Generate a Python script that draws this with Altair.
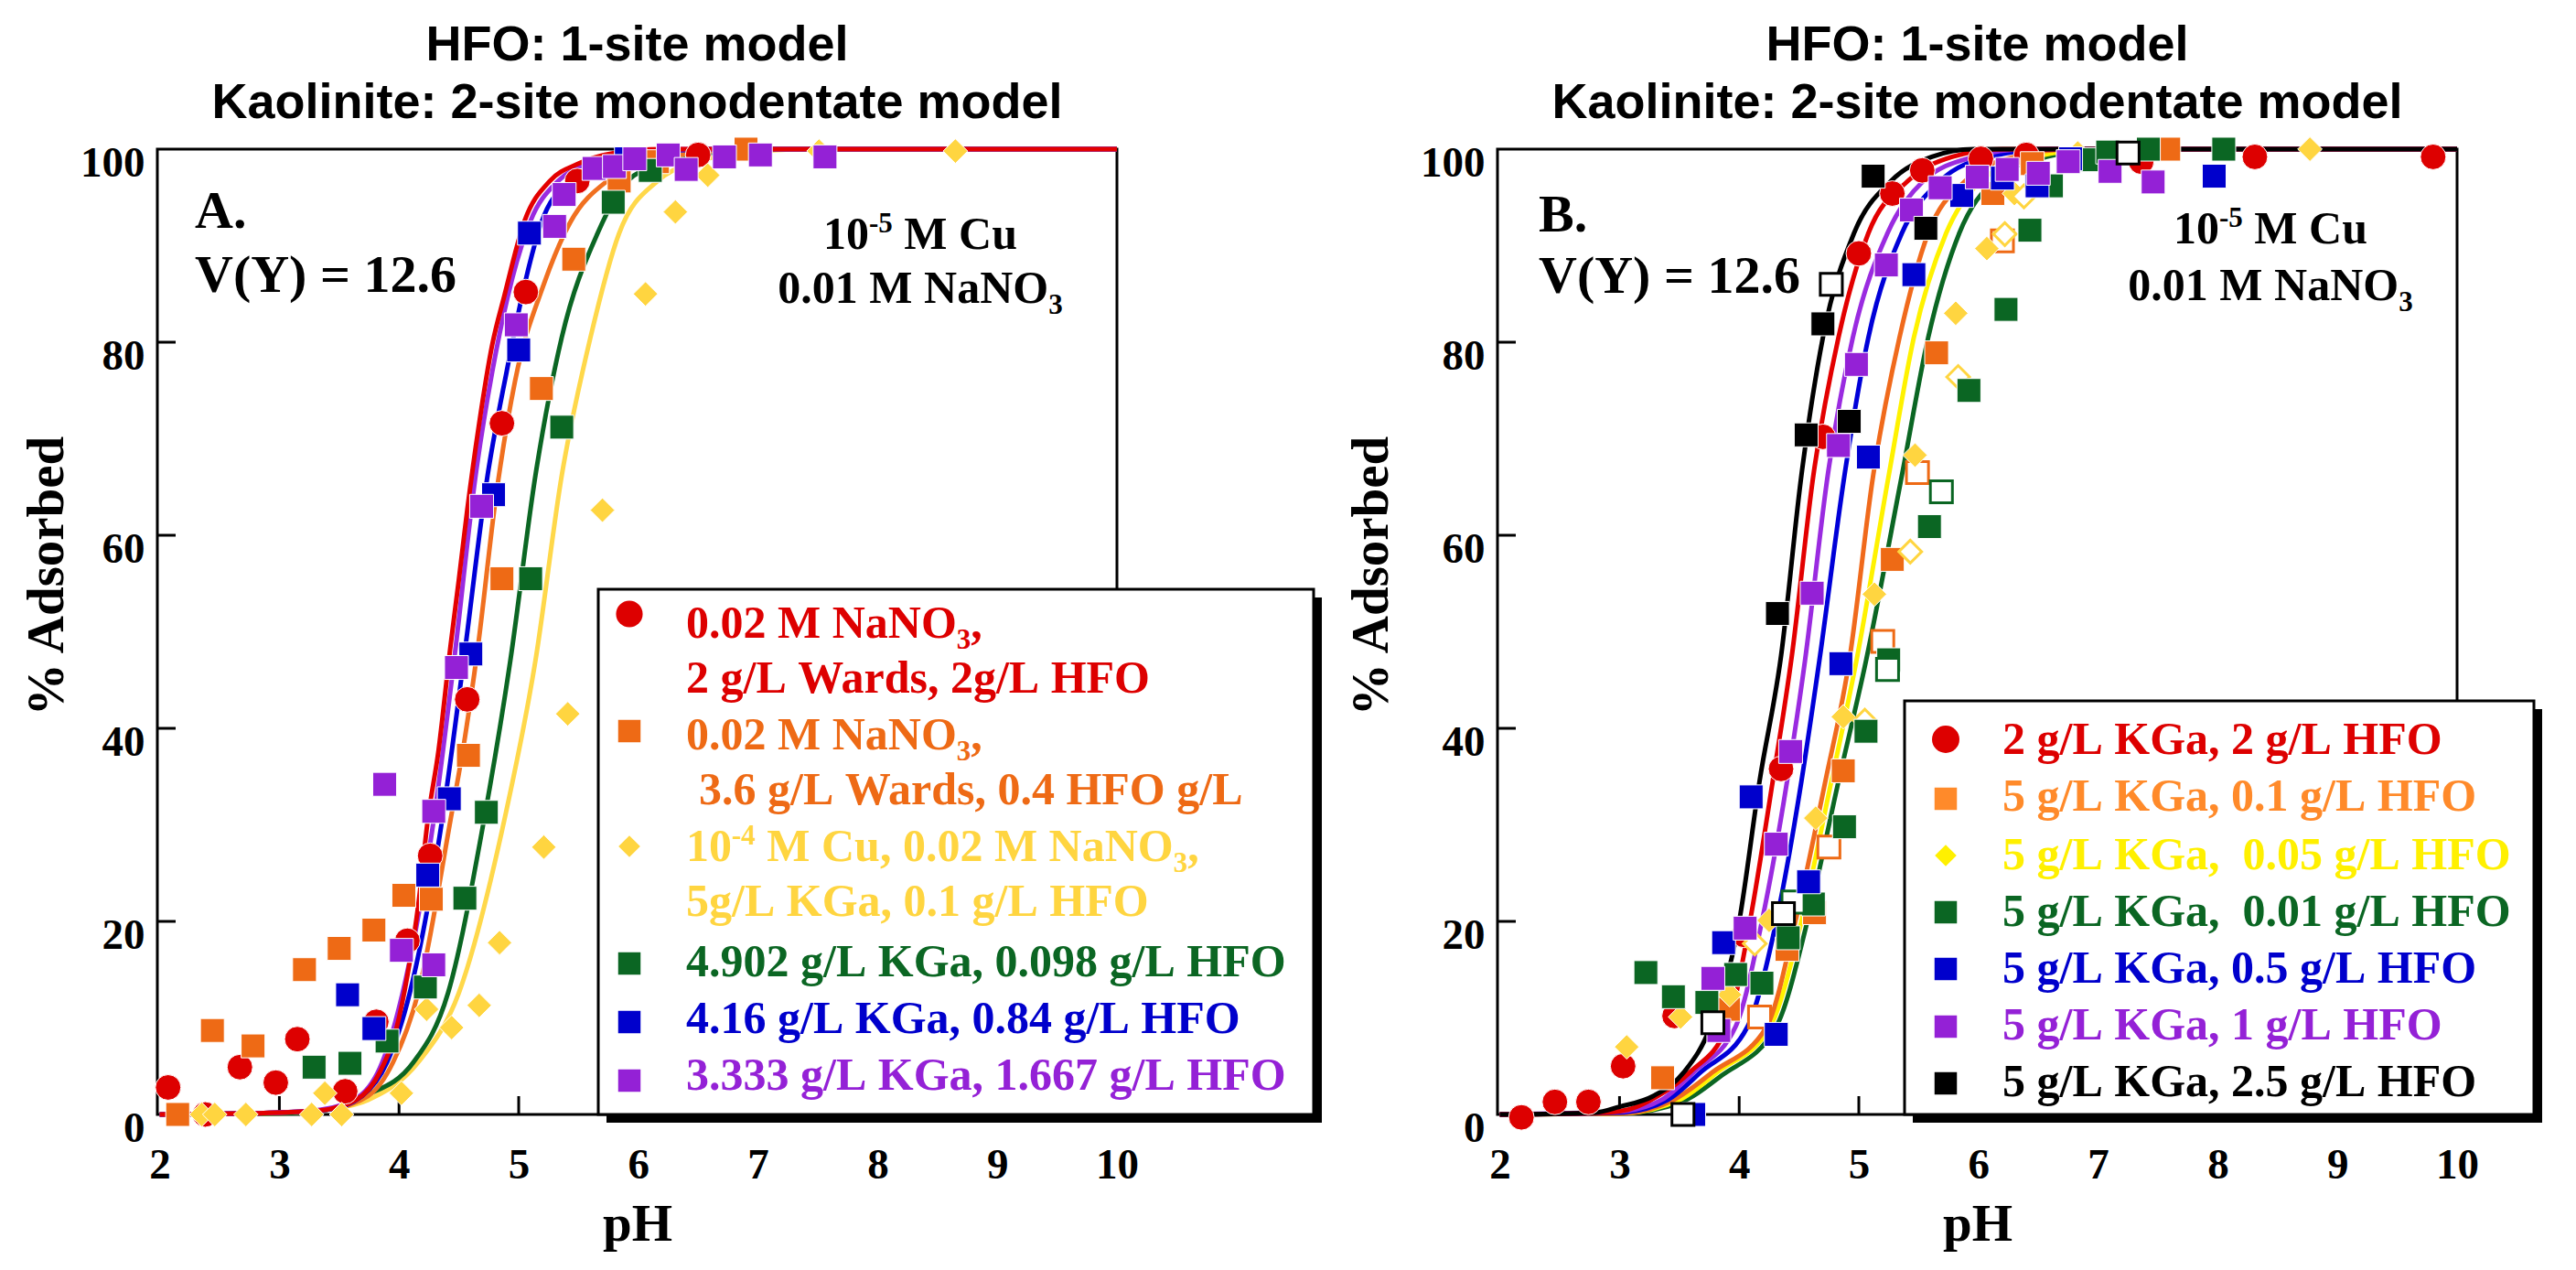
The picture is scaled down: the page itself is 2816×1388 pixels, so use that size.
import altair as alt
import pandas as pd

# ---------------------------------------------------------------- axis labels
X_LABELS = [2, 3, 4, 5, 6, 7, 8, 9, 10]
Y_LABELS = [0, 20, 40, 60, 80, 100]
X_TICKS = [3, 4, 5, 6, 7, 8, 9]
Y_TICKS = [20, 40, 60, 80]

TITLE_LINES = ["HFO: 1-site model", "Kaolinite: 2-site monodentate model"]

# ---------------------------------------------------------------- panel A points
A_red_pH = [2.07, 2.38, 2.67, 2.97, 3.15, 3.55, 3.81, 4.07, 4.26, 4.57, 4.86, 5.06, 5.49, 6.5]
A_red_v = [2.8, 0, 4.9, 3.3, 7.8, 2.4, 9.6, 18, 26.8, 43, 71.6, 85.2, 96.7, 99.4]
A_orange_pH = [2.15, 2.44, 2.78, 3.21, 3.5, 3.79, 4.04, 4.27, 4.58, 4.86, 5.19, 5.46, 5.84, 6.16, 6.9]
A_orange_v = [0, 8.7, 7.1, 15, 17.2, 19.1, 22.7, 22.3, 37.2, 55.5, 75.2, 88.6, 96.7, 98.7, 100]
A_yellow_pH = [2.35, 2.46, 2.72, 3.27, 3.38, 3.52, 4.02, 4.23, 4.44, 4.67, 4.84, 5.21, 5.41, 5.7, 6.06, 6.31, 6.58, 7.51, 8.65]
A_yellow_v = [0, 0, 0, 0, 2.2, 0, 2.2, 10.9, 9.0, 11.3, 17.8, 27.7, 41.5, 62.6, 85.0, 93.5, 97.3, 99.8, 99.8]
A_green_pH = [3.29, 3.59, 3.9, 4.22, 4.55, 4.73, 5.1, 5.36, 5.79, 6.1]
A_green_v = [4.9, 5.3, 7.6, 13.2, 22.4, 31.3, 55.5, 71.2, 94.5, 97.8]
A_blue_pH = [3.57, 3.79, 4.24, 4.42, 4.6, 4.79, 5.0, 5.09, 5.9]
A_blue_v = [12.4, 8.9, 24.8, 32.7, 47.7, 64.2, 79.2, 91.3, 99]
A_purple_pH = [3.88, 4.02, 4.29, 4.29, 4.48, 4.69, 4.98, 5.3, 5.38, 5.63, 5.8, 5.97, 6.25, 6.4, 6.72, 7.02, 7.56]
A_purple_v = [34.2, 17.0, 31.4, 15.5, 46.3, 63.0, 81.8, 92.0, 95.3, 98, 98.2, 99, 99.4, 97.9, 99.2, 99.4, 99.2]

# ---------------------------------------------------------------- panel A model curves
A_c_red_pH = [2.0, 3.0, 3.33, 3.64, 3.84, 3.98, 4.07, 4.16, 4.24, 4.33, 4.43, 4.5, 4.57, 4.67, 4.78, 4.88, 5.05, 5.26, 5.5, 5.8, 6.2, 10.0]
A_c_red_v = [0, 0.2, 0.4, 1.5, 4.4, 9, 14.4, 21.6, 30.5, 37.7, 48.5, 55.4, 62.6, 71.6, 79.8, 84.8, 92.6, 96.7, 98.5, 99.6, 100, 100]
A_c_purple_pH = [2.0, 3.0, 3.35, 3.67, 3.86, 4.03, 4.29, 4.46, 4.64, 4.78, 4.91, 5.1, 5.33, 5.57, 5.9, 6.3, 10.0]
A_c_purple_v = [0, 0.2, 0.5, 1.9, 5.4, 12.6, 30.5, 47, 66.2, 77, 84.8, 92.6, 96.7, 98.5, 99.6, 100, 100]
A_c_blue_pH = [2.0, 3.0, 3.4, 3.69, 3.9, 4.09, 4.36, 4.54, 4.74, 4.9, 5.05, 5.19, 5.43, 5.74, 6.2, 6.6, 10.0]
A_c_blue_v = [0, 0.2, 0.5, 1.9, 5.4, 12.6, 30.5, 47, 66.2, 77, 86, 92.4, 96.7, 98.5, 99.7, 100, 100]
A_c_orange_pH = [2.0, 3.0, 3.4, 3.74, 3.95, 4.16, 4.43, 4.55, 4.66, 4.81, 4.97, 5.21, 5.43, 5.74, 6.09, 6.5, 7.0, 10.0]
A_c_orange_v = [0, 0.2, 0.5, 1.9, 5.4, 12.6, 30.5, 39, 48.5, 64, 76, 86, 92.4, 96.7, 98.5, 99.7, 100, 100]
A_c_green_pH = [2.0, 3.0, 3.4, 3.71, 4.12, 4.41, 4.71, 4.93, 5.14, 5.36, 5.66, 5.91, 6.2, 6.6, 7.1, 10.0]
A_c_green_v = [0, 0.1, 0.5, 1.9, 5.4, 12.6, 30.5, 47, 66.2, 80.5, 91.3, 96.7, 98.5, 99.6, 100, 100]
A_c_yellow_pH = [2.0, 3.0, 3.4, 3.74, 4.16, 4.5, 4.88, 5.14, 5.36, 5.6, 5.84, 6.16, 6.43, 6.9, 7.4, 10.0]
A_c_yellow_v = [0, 0.1, 0.5, 1.5, 5.4, 12.6, 30.5, 47, 66.2, 80.5, 91.3, 96.7, 98.5, 99.6, 100, 100]

# ---------------------------------------------------------------- panel B points
B_red_pH = [2.18, 2.46, 2.74, 3.03, 3.46, 4.04, 4.35, 4.7, 5.0, 5.28, 5.53, 6.02, 6.4, 7.36, 8.31, 9.8]
B_red_v = [-0.3, 1.3, 1.3, 5.0, 10.2, 18.6, 35.8, 70.2, 89.2, 95.4, 97.8, 99.0, 99.4, 98.7, 99.2, 99.2]
B_orange_pH = [3.36, 3.91, 4.4, 4.63, 4.87, 5.28, 5.65, 6.12, 6.45, 7.59]
B_orange_v = [3.8, 10.9, 17.1, 20.9, 35.6, 57.5, 78.9, 95.4, 98.5, 100]
B_orange_open_pH = [4.17, 4.75, 5.2, 5.49, 6.2]
B_orange_open_v = [10.1, 27.7, 49, 66.5, 90.5]
B_yellow_pH = [3.06, 3.51, 3.92, 4.25, 4.64, 4.87, 5.13, 5.47, 5.81, 6.07, 6.3, 6.83, 8.77]
B_yellow_v = [7.0, 10.1, 12.4, 20.1, 30.7, 41.2, 53.9, 68.3, 83.0, 89.7, 95.4, 99.6, 100]
B_yellow_open_pH = [4.13, 5.05, 5.43, 5.83, 6.22, 6.38]
B_yellow_open_v = [17.7, 40.8, 58.3, 76.4, 91.2, 95.1]
B_green_pH = [3.22, 3.45, 3.73, 3.97, 4.19, 4.41, 4.62, 4.88, 5.06, 5.25, 5.59, 5.92, 6.23, 6.43, 6.61, 6.95, 7.08, 7.42, 8.05]
B_green_v = [14.7, 12.2, 11.6, 14.5, 13.6, 18.3, 21.8, 29.8, 39.7, 47.1, 60.9, 75.0, 83.4, 91.6, 96.2, 98.9, 99.7, 100, 100]
B_green_open_pH = [4.45, 5.24, 5.69]
B_green_open_v = [22, 46.1, 64.5]
B_blue_pH = [3.62, 3.87, 4.1, 4.31, 4.58, 4.85, 5.08, 5.46, 5.86, 6.2, 6.49, 6.77, 7.97]
B_blue_v = [0, 17.8, 32.9, 8.3, 24.1, 46.7, 68.1, 87, 95.2, 97, 96.2, 99, 97.2]
B_purple_pH = [3.83, 3.78, 4.05, 4.31, 4.43, 4.61, 4.83, 4.98, 5.23, 5.44, 5.68, 5.99, 6.24, 6.5, 6.75, 7.1, 7.46]
B_purple_v = [8.7, 14.1, 19.3, 28, 37.6, 54, 69.3, 77.7, 88, 93.7, 96, 97.1, 97.9, 97.5, 98.7, 97.7, 96.6]
B_black_pH = [4.32, 4.56, 4.7, 4.92, 5.12, 5.56]
B_black_v = [51.9, 70.4, 81.9, 71.8, 97.2, 91.8]
B_black_open_pH = [3.53, 3.78, 4.37, 4.77, 7.25]
B_black_open_v = [0, 9.5, 20.8, 86.0, 99.6]

# ---------------------------------------------------------------- panel B model curves
B_c_black_pH = [2.0, 2.8, 3.0, 3.28, 3.54, 3.76, 4.0, 4.17, 4.35, 4.52, 4.7, 4.96, 5.27, 5.61, 5.96, 10.0]
B_c_black_v = [0, 0.2, 0.8, 1.9, 4.4, 9.1, 20, 34.5, 47.5, 66.2, 80.5, 91.3, 96.7, 99.2, 100, 100]
B_c_red_pH = [2.0, 2.9, 3.1, 3.32, 3.59, 3.9, 4.09, 4.28, 4.44, 4.62, 4.83, 5.08, 5.41, 5.78, 6.2, 10.0]
B_c_red_v = [0, 0.2, 0.6, 1.9, 4.4, 9.1, 20, 34.5, 47.5, 66.2, 80.5, 91.3, 96.7, 99.2, 100, 100]
B_c_purple_pH = [2.0, 3.0, 3.35, 3.62, 3.97, 4.19, 4.4, 4.55, 4.74, 4.95, 5.24, 5.54, 5.96, 6.4, 10.0]
B_c_purple_v = [0, 0.3, 1.5, 4.4, 9.1, 20, 34.5, 47, 66.2, 80.5, 91.3, 96.7, 99.2, 100, 100]
B_c_blue_pH = [2.0, 3.0, 3.4, 3.68, 4.07, 4.31, 4.52, 4.67, 4.88, 5.08, 5.36, 5.68, 6.09, 6.6, 10.0]
B_c_blue_v = [0, 0.2, 1.5, 4.4, 9.1, 20, 34.5, 47, 66.2, 80.5, 91.3, 96.7, 99.2, 100, 100]
B_c_orange_pH = [2.0, 3.0, 3.45, 3.78, 4.23, 4.47, 4.72, 4.92, 5.12, 5.34, 5.58, 5.89, 6.3, 6.8, 10.0]
B_c_orange_v = [0, 0.1, 1.5, 4.4, 9.1, 20, 34.5, 47, 66.2, 80.5, 91.3, 96.7, 99.2, 100, 100]
B_c_yellow_pH = [2.0, 3.0, 3.5, 3.82, 4.26, 4.52, 4.77, 4.98, 5.25, 5.46, 5.73, 6.02, 6.47, 7.0, 10.0]
B_c_yellow_v = [0, 0.1, 1.5, 4.4, 9.1, 20, 34.5, 47, 66.2, 80.5, 91.3, 96.7, 99.2, 100, 100]
B_c_green_pH = [2.0, 3.0, 3.5, 3.85, 4.31, 4.57, 4.83, 5.06, 5.36, 5.58, 5.84, 6.13, 6.57, 7.1, 10.0]
B_c_green_v = [0, 0.1, 1.2, 4.0, 9.1, 20, 34.5, 47, 66.2, 80.5, 91.3, 96.7, 99.2, 100, 100]

# ---------------------------------------------------------------- texts
A_LEGEND = [
    [("0.02 M NaNO", "n"), ("3", "sub"), (",", "n")],
    [("2 g/L Wards, 2g/L HFO", "n")],
    [("0.02 M NaNO", "n"), ("3", "sub"), (",", "n")],
    [("3.6 g/L Wards, 0.4 HFO g/L", "n")],
    [("10", "n"), ("-4", "sup"), (" M Cu, 0.02 M NaNO", "n"), ("3", "sub"), (",", "n")],
    [("5g/L KGa, 0.1 g/L HFO", "n")],
    [("4.902 g/L KGa, 0.098 g/L HFO", "n")],
    [("4.16 g/L KGa, 0.84 g/L HFO", "n")],
    [("3.333 g/L KGa, 1.667 g/L HFO", "n")],
]
B_LEGEND = [
    [("2 g/L KGa, 2 g/L HFO", "n")],
    [("5 g/L KGa, 0.1 g/L HFO", "n")],
    [("5 g/L KGa,  0.05 g/L HFO", "n")],
    [("5 g/L KGa,  0.01 g/L HFO", "n")],
    [("5 g/L KGa, 0.5 g/L HFO", "n")],
    [("5 g/L KGa, 1 g/L HFO", "n")],
    [("5 g/L KGa, 2.5 g/L HFO", "n")],
]
CU_LINE = [("10", "n"), ("-5", "sup"), (" M Cu", "n")]
SALT_LINE = [("0.01 M NaNO", "n"), ("3", "sub")]
VY_TEXT = "V(Y) = 12.6"

# ---------------------------------------------------------------- styling
SERIF = "Liberation Serif"
SANS = "Liberation Sans"
PW, PHT = 1049, 1055

RED = "#DD0000"
ORANGE = "#EE6A15"
ORANGE_B_TXT = "#FF8A2A"
GOLD = "#FFD540"
YELLOW = "#FFF200"
GREEN = "#0B6623"
BLUE = "#0000CC"
PURPLE = "#9421D6"
BLACK = "#000000"

# Times/Liberation Serif Bold advance widths (em)
CW = {" ": 0.25, ".": 0.25, ",": 0.25, "-": 0.333, "/": 0.278, "(": 0.333, ")": 0.333,
      "=": 0.57, "A": 0.722, "B": 0.667, "C": 0.722, "F": 0.611, "G": 0.778, "H": 0.778,
      "K": 0.778, "L": 0.667, "M": 0.944, "N": 0.722, "O": 0.778, "V": 0.722, "W": 1.0,
      "Y": 0.722, "a": 0.5, "d": 0.556, "g": 0.5, "r": 0.444, "s": 0.389, "u": 0.556}


def enc_x():
    return alt.X("pH:Q", scale=alt.Scale(domain=[1.98, 10.0], nice=False, zero=False),
                 axis=alt.Axis(values=X_LABELS, title="pH", labelFlush=False))


def make_enc_y(title_x):
    def enc_y():
        return alt.Y("v:Q", scale=alt.Scale(domain=[0, 100], nice=False, zero=False),
                     axis=alt.Axis(values=Y_LABELS, title="% Adsorbed", labelFlush=False,
                                   titleX=title_x, titleY=466, titleBaseline="alphabetic"))
    return enc_y


def rich(segs, x, y, size, color, align="left"):
    items = []
    for txt, kind in segs:
        if kind == "n":
            fs, dy = size, 0.0
        elif kind == "sub":
            fs, dy = size * 0.62, size * 0.24
        else:
            fs, dy = size * 0.62, -size * 0.36
        lead = len(txt) - len(txt.lstrip(" "))
        body = txt.lstrip(" ")
        w_lead = lead * CW[" "] * fs
        w = sum(CW.get(ch, 0.5) for ch in body) * fs
        items.append((body, fs, dy, w_lead, w))
    total = sum(i[3] + i[4] for i in items)
    cx = x - total / 2 if align == "center" else x
    out = []
    for body, fs, dy, w_lead, w in items:
        cx += w_lead
        out.append(alt.Chart(pd.DataFrame({"t": [body.replace(" ", "\u00a0")]})).mark_text(
            align="left", baseline="alphabetic", font=SERIF, fontWeight="bold",
            fontSize=fs, color=color).encode(x=alt.value(cx), y=alt.value(y + dy), text="t:N"))
        cx += w
    return out


def one():
    return pd.DataFrame({"k": [0]})


def legend_box(x0, y0, x1, y1):
    shadow = alt.Chart(one()).mark_rect(fill="black").encode(
        x=alt.value(x0 + 9), x2=alt.value(x1 + 9), y=alt.value(y0 + 9), y2=alt.value(y1 + 9))
    box = alt.Chart(one()).mark_rect(fill="white", stroke="black", strokeWidth=3).encode(
        x=alt.value(x0), x2=alt.value(x1), y=alt.value(y0), y2=alt.value(y1))
    return [shadow, box]


def sym(x, y, shape, color, size):
    return alt.Chart(one()).mark_point(shape=shape, filled=True, color=color, size=size,
                                       opacity=1).encode(x=alt.value(x), y=alt.value(y))


def title():
    return alt.TitleParams(text=TITLE_LINES, font=SANS, fontSize=54, fontWeight="bold",
                           color="black", lineHeight=63, offset=8, anchor="middle")


class Panel:
    def __init__(self, title_x):
        self.enc_y = make_enc_y(title_x)
        self.layers = []
        xt = alt.Chart(pd.DataFrame({"pH": X_TICKS})).mark_rule(color="black", strokeWidth=3).encode(
            x=enc_x(), y=alt.value(PHT), y2=alt.value(PHT - 20))
        yt = alt.Chart(pd.DataFrame({"v": Y_TICKS})).mark_rule(color="black", strokeWidth=3).encode(
            y=self.enc_y(), x=alt.value(0), x2=alt.value(20))
        self.layers += [xt, yt]

    def curve(self, ph, v, color):
        df = pd.DataFrame({"pH": ph, "v": v})
        self.layers.append(alt.Chart(df).mark_line(color=color, strokeWidth=5, interpolate="monotone")
                           .encode(x=enc_x(), y=self.enc_y()))

    def pts(self, ph, v, shape, color, size):
        df = pd.DataFrame({"pH": ph, "v": v})
        self.layers.append(alt.Chart(df).mark_point(shape=shape, filled=True, color=color, stroke="white",
                                                    strokeWidth=1, size=size, opacity=1)
                           .encode(x=enc_x(), y=self.enc_y()))

    def open_pts(self, ph, v, shape, color, size):
        df = pd.DataFrame({"pH": ph, "v": v})
        self.layers.append(alt.Chart(df).mark_point(shape=shape, filled=True, fill="white", stroke=color,
                                                    strokeWidth=3, size=size, opacity=1)
                           .encode(x=enc_x(), y=self.enc_y()))


SQ, CI, DI = 680, 780, 720

# ---------------------------------------------------------------- panel A
pa = Panel(-104)
pa.curve(A_c_yellow_pH, A_c_yellow_v, "#FFD84A")
pa.curve(A_c_green_pH, A_c_green_v, GREEN)
pa.curve(A_c_orange_pH, A_c_orange_v, "#F07020")
pa.curve(A_c_blue_pH, A_c_blue_v, "#0000D8")
pa.curve(A_c_purple_pH, A_c_purple_v, "#9A2BE0")
pa.curve(A_c_red_pH, A_c_red_v, "#E30000")
pa.pts(A_red_pH, A_red_v, "circle", RED, CI)
pa.pts(A_orange_pH, A_orange_v, "square", ORANGE, SQ)
pa.pts(A_yellow_pH, A_yellow_v, "diamond", GOLD, DI)
pa.pts(A_green_pH, A_green_v, "square", GREEN, SQ)
pa.pts(A_blue_pH, A_blue_v, "square", BLUE, SQ)
pa.pts(A_purple_pH, A_purple_v, "square", PURPLE, SQ)
pa.layers += rich([("A.", "n")], 41, 86, 58, "black")
pa.layers += rich([(VY_TEXT, "n")], 41, 156, 58, "black")
pa.layers += rich(CU_LINE, 834, 109, 50, "black", "center")
pa.layers += rich(SALT_LINE, 834, 168, 50, "black", "center")
pa.layers += legend_box(482, 481, 1264, 1055)
A_rows = [(578, 534, RED), (578, 594, RED), (578, 656, ORANGE), (592, 716, ORANGE),
          (578, 778, GOLD), (578, 838, GOLD), (578, 904, GREEN), (578, 966, BLUE), (578, 1028, PURPLE)]
for segs, (x, y, c) in zip(A_LEGEND, A_rows):
    pa.layers += rich(segs, x, y, 50, c)
pa.layers += [
    sym(516, 508, "circle", RED, 850),
    sym(516, 636, "square", ORANGE, 600),
    sym(516, 762, "diamond", GOLD, 560),
    sym(516, 890, "square", GREEN, 600),
    sym(516, 954, "square", BLUE, 600),
    sym(516, 1018, "square", PURPLE, 600),
]
left = alt.layer(*pa.layers).properties(width=PW, height=PHT, title=title())

# ---------------------------------------------------------------- panel B
pb = Panel(-121)
pb.curve(B_c_green_pH, B_c_green_v, GREEN)
pb.curve(B_c_yellow_pH, B_c_yellow_v, YELLOW)
pb.curve(B_c_orange_pH, B_c_orange_v, "#F06A1C")
pb.curve(B_c_blue_pH, B_c_blue_v, "#0000D8")
pb.curve(B_c_purple_pH, B_c_purple_v, "#9A2BE0")
pb.curve(B_c_red_pH, B_c_red_v, "#E30000")
pb.curve(B_c_black_pH, B_c_black_v, BLACK)
pb.pts(B_red_pH, B_red_v, "circle", RED, CI)
pb.pts(B_orange_pH, B_orange_v, "square", ORANGE, SQ)
pb.open_pts(B_orange_open_pH, B_orange_open_v, "square", ORANGE, 580)
pb.pts(B_yellow_pH, B_yellow_v, "diamond", GOLD, DI)
pb.open_pts(B_yellow_open_pH, B_yellow_open_v, "diamond", GOLD, 620)
pb.pts(B_green_pH, B_green_v, "square", GREEN, SQ)
pb.open_pts(B_green_open_pH, B_green_open_v, "square", GREEN, 580)
pb.pts(B_blue_pH, B_blue_v, "square", BLUE, SQ)
pb.pts(B_purple_pH, B_purple_v, "square", PURPLE, SQ)
pb.pts(B_black_pH, B_black_v, "square", BLACK, SQ)
pb.open_pts(B_black_open_pH, B_black_open_v, "square", BLACK, 580)
pb.layers += rich([("B.", "n")], 45, 90, 58, "black")
pb.layers += rich([(VY_TEXT, "n")], 45, 157, 58, "black")
pb.layers += rich(CU_LINE, 845, 103, 50, "black", "center")
pb.layers += rich(SALT_LINE, 845, 165, 50, "black", "center")
pb.layers += legend_box(445, 603, 1133, 1055)
B_colors = [RED, ORANGE_B_TXT, "#FFF000", GREEN, BLUE, PURPLE, BLACK]
B_base = [661, 723, 787, 849, 911, 973, 1035]
for segs, y, c in zip(B_LEGEND, B_base, B_colors):
    pb.layers += rich(segs, 552, y, 50, c)
B_sym_shapes = ["circle", "square", "diamond", "square", "square", "square", "square"]
B_sym_sizes = [900, 600, 560, 600, 600, 600, 600]
for y, c, s, z in zip([645, 710, 772, 834, 896, 959, 1021], B_colors, B_sym_shapes, B_sym_sizes):
    pb.layers.append(sym(490, y, s, c, z))
right = alt.layer(*pb.layers).properties(width=PW, height=PHT, title=title())

# ---------------------------------------------------------------- assemble
chart = alt.hconcat(left, right, spacing=416, bounds="flush").properties(
    padding={"left": 12, "top": 13, "right": 5, "bottom": 5}, background="white"
).configure_view(stroke="black", strokeWidth=3).configure_axis(
    labelFont=SERIF, labelFontWeight="bold", labelFontSize=47, labelColor="black",
    titleFont=SERIF, titleFontWeight="bold", titleFontSize=57, titleColor="black",
    grid=False, ticks=False, tickSize=0, domain=False
).configure_axisX(labelPadding=32, titlePadding=14).configure_axisY(
    labelPadding=14, labelOffset=15)

chart.save("out.html", embed_options={"renderer": "svg", "actions": False})
